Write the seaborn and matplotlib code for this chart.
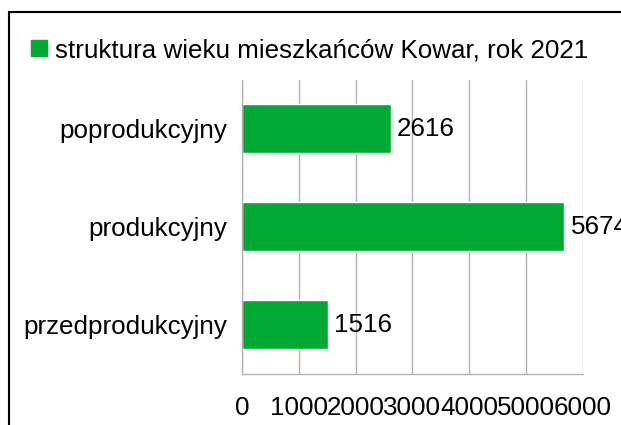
import matplotlib
matplotlib.use('Agg')
import matplotlib.pyplot as plt
import seaborn as sns
import pandas as pd
from matplotlib.patches import Rectangle
from matplotlib.lines import Line2D
from matplotlib.ticker import FixedLocator

categories = ['poprodukcyjny', 'produkcyjny', 'przedprodukcyjny']
values = [2616, 5674, 1516]
series_name = 'struktura wieku mieszkańców Kowar, rok 2021'
xticks = [0, 1000, 2000, 3000, 4000, 5000, 6000]

green = '#00a933'
grid_gray = '#b3b3b3'
fs = 18.7

sns.set_theme(style='white')
plt.rcParams['font.family'] = ['Liberation Sans', 'DejaVu Sans']
plt.rcParams['text.color'] = 'black'

df = pd.DataFrame({'grupa': categories, 'liczba': values})

fig = plt.figure(figsize=(6.21, 4.25), dpi=100)
ax = fig.add_axes([0.3897, 0.12, 0.549, 0.692])

sns.barplot(data=df, x='liczba', y='grupa', orient='h', color=green,
            saturation=1, width=0.5, ax=ax)

ax.set_xlim(0, 6000)
ax.set_ylim(2.5, -0.5)
ax.set_xticks(xticks)
ax.set_xticklabels([str(t) for t in xticks], fontsize=fs)
ax.set_xlabel('')
ax.set_ylabel('')
ax.tick_params(axis='y', labelsize=fs, length=0, pad=11, labelcolor='black')
ax.yaxis.set_minor_locator(FixedLocator([0.5, 1.5]))
ax.tick_params(axis='y', which='minor', length=7, color=grid_gray, width=1)
ax.tick_params(axis='x', length=8, color=grid_gray, width=1, pad=8, labelcolor='black')

ax.grid(axis='x', color=grid_gray, linewidth=1)
ax.set_axisbelow(True)
for side in ['top', 'right']:
    ax.spines[side].set_visible(False)
for side in ['left', 'bottom']:
    ax.spines[side].set_color(grid_gray)
    ax.spines[side].set_linewidth(1)

for i, v in enumerate(values):
    ax.text(v + 110, i, str(v), va='center', ha='left', fontsize=fs, color='black', clip_on=False)

handle = Line2D([], [], marker='s', color=green, linestyle='none', markersize=11)
fig.legend([handle], [series_name], loc='center left', bbox_to_anchor=(0.03, 0.882),
           frameon=False, fontsize=fs, handletextpad=0.2, borderaxespad=0, handlelength=0.8,
           labelcolor='black')

fig.patches.append(Rectangle((9 / 621, -0.1), 1.2, 1 - 12 / 425 + 0.1, transform=fig.transFigure,
                             fill=False, edgecolor='black', linewidth=1.5))

fig.savefig('out.png', dpi=100)
